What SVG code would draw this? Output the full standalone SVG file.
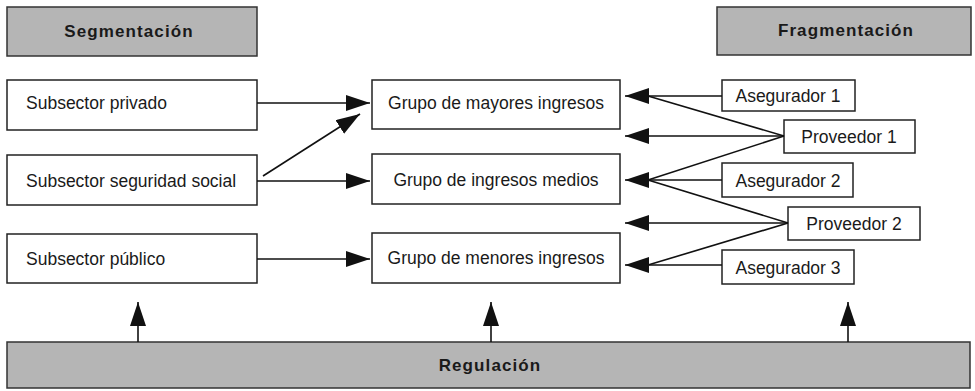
<svg xmlns="http://www.w3.org/2000/svg" width="975" height="391" viewBox="0 0 975 391">
<style>
.hdr{fill:#b5b5b5;stroke:#333;stroke-width:1.5}
.box{fill:#fff;stroke:#222;stroke-width:1.5}
.t{font-family:"Liberation Sans",Arial,sans-serif;font-size:17.5px;fill:#1a1a1a}
.th{font-family:"Liberation Sans",Arial,sans-serif;font-size:17px;font-weight:bold;fill:#1a1a1a;letter-spacing:1.1px}
.ln{stroke:#111;stroke-width:1.6;fill:none}
</style>
<defs>
<marker id="ah" markerUnits="userSpaceOnUse" markerWidth="26" markerHeight="18" refX="24" refY="8" orient="auto">
<path d="M0,0 L24,8 L0,16 z" fill="#111"/>
</marker>
</defs>
<rect width="975" height="391" fill="#fff"/>
<g id="seg"><rect class="hdr" x="7" y="7" width="250" height="49"/><text class="th" x="129" y="37" text-anchor="middle">Segmentación</text></g>
<g id="frag"><rect class="hdr" x="717" y="7" width="254" height="48"/><text class="th" x="846" y="36" text-anchor="middle">Fragmentación</text></g>
<g id="reg"><rect class="hdr" x="7" y="342" width="963" height="46"/><text class="th" x="490" y="371" text-anchor="middle">Regulación</text></g>
<g id="priv"><rect class="box" x="7" y="80" width="250" height="50"/><text class="t" x="26" y="109">Subsector privado</text></g>
<g id="ss"><rect class="box" x="7" y="155" width="250" height="50"/><text class="t" x="26" y="187">Subsector seguridad social</text></g>
<g id="pub"><rect class="box" x="7" y="234" width="250" height="49"/><text class="t" x="26" y="265">Subsector público</text></g>
<g id="gmay"><rect class="box" x="372" y="80" width="248" height="49"/><text class="t" x="496" y="109" text-anchor="middle">Grupo de mayores ingresos</text></g>
<g id="gmed"><rect class="box" x="372" y="154" width="248" height="50"/><text class="t" x="496" y="186" text-anchor="middle">Grupo de ingresos medios</text></g>
<g id="gmen"><rect class="box" x="372" y="233" width="248" height="50"/><text class="t" x="496" y="264" text-anchor="middle">Grupo de menores ingresos</text></g>
<g id="as1"><rect class="box" x="722" y="80" width="133" height="31"/><text class="t" x="788" y="102" text-anchor="middle">Asegurador 1</text></g>
<g id="pr1"><rect class="box" x="784" y="120" width="131" height="33"/><text class="t" x="849" y="143" text-anchor="middle">Proveedor 1</text></g>
<g id="as2"><rect class="box" x="722" y="163" width="131" height="34"/><text class="t" x="788" y="187" text-anchor="middle">Asegurador 2</text></g>
<g id="pr2"><rect class="box" x="788" y="207" width="132" height="33"/><text class="t" x="854" y="230" text-anchor="middle">Proveedor 2</text></g>
<g id="as3"><rect class="box" x="722" y="250" width="132" height="34"/><text class="t" x="788" y="274" text-anchor="middle">Asegurador 3</text></g>
<g id="connectors">
<line class="ln" x1="257" y1="103" x2="370" y2="103" marker-end="url(#ah)"/>
<line class="ln" x1="257" y1="181" x2="370" y2="181" marker-end="url(#ah)"/>
<line class="ln" x1="263" y1="176" x2="360" y2="114" marker-end="url(#ah)"/>
<line class="ln" x1="257" y1="259" x2="370" y2="259" marker-end="url(#ah)"/>
<line class="ln" x1="722" y1="96" x2="625" y2="96" marker-end="url(#ah)"/>
<line class="ln" x1="784" y1="136" x2="648" y2="96"/>
<line class="ln" x1="784" y1="136" x2="625" y2="136" marker-end="url(#ah)"/>
<line class="ln" x1="784" y1="136" x2="648" y2="180"/>
<line class="ln" x1="722" y1="180" x2="625" y2="180" marker-end="url(#ah)"/>
<line class="ln" x1="788" y1="223" x2="648" y2="180"/>
<line class="ln" x1="788" y1="223" x2="625" y2="223" marker-end="url(#ah)"/>
<line class="ln" x1="788" y1="223" x2="648" y2="265"/>
<line class="ln" x1="722" y1="265" x2="625" y2="265" marker-end="url(#ah)"/>
<line class="ln" x1="138" y1="342" x2="138" y2="302" marker-end="url(#ah)"/>
<line class="ln" x1="491" y1="342" x2="491" y2="302" marker-end="url(#ah)"/>
<line class="ln" x1="848" y1="342" x2="848" y2="302" marker-end="url(#ah)"/>
</g>
</svg>
